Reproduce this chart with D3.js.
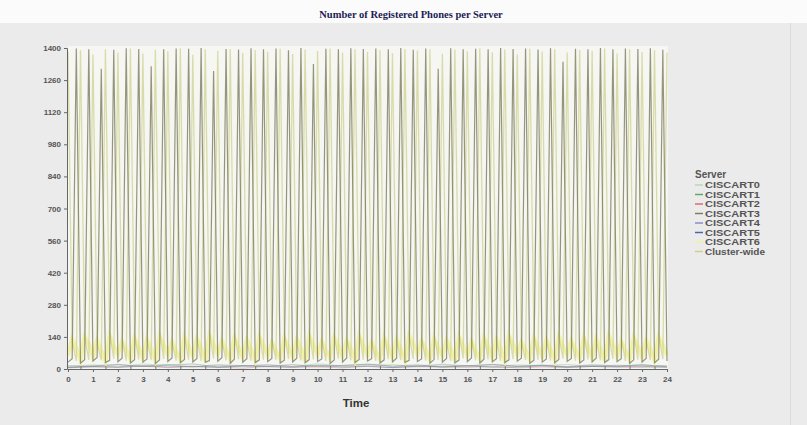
<!DOCTYPE html>
<html><head><meta charset="utf-8">
<script src="https://cdn.jsdelivr.net/npm/d3@7"></script>
<style>body{margin:0;background:#ececec;}svg{display:block;}</style>
</head><body>
<script>
// ---- data ----
const title = "Number of Registered Phones per Server";
const servers = ["CISCART0","CISCART1","CISCART2","CISCART3","CISCART4","CISCART5","CISCART6","Cluster-wide"];
const colors  = ["#b5dcb0","#62a860","#e06a6a","#7d7d62","#8a8ccc","#4a66aa","#f0f09a","#cdd28a"];
const yTicks = [0,140,280,420,560,700,840,980,1120,1260,1400];
const xTicks = d3.range(0,25);
// samples every 10 minutes (1/6 h), 145 samples
const sampleStep = 1/6;
const ciscart3 = [
 30,45,1398, 25,40,1395, 35,50,1310, 28,38,1392, 32,47,1399, 26,41,1396,
 30,44,1320, 24,39,1394, 33,48,1398, 27,42,1397, 31,46,1400, 29,37,1300,
 34,49,1396, 25,43,1393, 30,45,1399, 28,40,1395, 32,46,1398, 26,38,1390,
 31,47,1400, 27,41,1330, 33,44,1397, 24,39,1394, 30,48,1399, 28,42,1396,
 35,45,1398, 26,40,1395, 31,47,1400, 29,38,1392, 33,44,1398, 25,41,1310,
 30,46,1399, 27,39,1395, 32,48,1397, 26,43,1394, 31,45,1400, 28,40,1396,
 34,47,1398, 25,38,1393, 30,44,1399, 27,42,1340, 33,46,1397, 26,39,1395,
 31,48,1400, 28,41,1394, 32,45,1398, 24,40,1396, 30,47,1399, 27,43,1392,
 35];
const clusterWide = [
 1385,120,35, 1390,140,40, 1372,110,38, 1395,160,45, 1380,130,36, 1398,150,42,
 1376,125,39, 1392,170,44, 1386,115,37, 1399,145,41, 1370,135,35, 1394,155,46,
 1388,122,38, 1396,165,43, 1378,118,36, 1391,148,40, 1384,132,39, 1397,158,44,
 1374,112,37, 1393,162,42, 1387,128,35, 1398,142,45, 1379,136,38, 1395,168,41,
 1383,119,36, 1390,152,43, 1377,126,39, 1396,146,44, 1389,138,37, 1394,160,40,
 1375,114,35, 1392,156,46, 1386,131,38, 1399,149,42, 1381,123,36, 1393,166,43,
 1372,117,39, 1397,153,41, 1385,134,37, 1395,144,45, 1380,127,36, 1391,161,42,
 1388,121,38, 1398,147,44, 1376,133,35, 1394,157,41, 1383,124,39, 1390,150,43,
 1380];
const ciscart6 = [
 60,130,90,40,140,110,55,125,80,35,145,100,65,120,85,45,135,95,
 50,128,88,38,142,105,62,118,78,42,138,98,58,132,92,36,146,108,
 66,122,84,44,136,96,52,126,86,40,140,102,60,116,80,46,134,94,
 54,130,90,34,144,106,64,120,82,48,138,100,56,124,88,38,142,104,
 62,118,78,44,136,96,50,128,86,40,146,110,66,122,84,42,132,92,
 58,126,90,36,140,102,60,120,80,46,138,98,52,130,88,38,144,106,
 64,118,82,44,134,94,56,128,86,40,142,100,62,124,84,48,136,96,
 50,132,90,36,146,108,58,120,80,42,138,98,54,126,88,40,140,104,
 60];
// hourly samples for servers that stay near the baseline
const hourly = d3.range(0,25);
const ciscart0 = [12,18,10,22,15,9,20,14,17,11,23,13,16,19,10,21,14,12,18,15,20,11,17,13,16];
const ciscart1 = [8,14,20,11,17,22,9,15,12,19,10,16,21,13,18,8,14,20,11,17,9,15,12,19,10];
const ciscart2 = [5,9,7,12,6,10,8,4,11,7,9,5,13,6,10,8,7,12,5,9,6,11,8,7,10];
const ciscart4 = [15,10,18,12,20,9,16,13,19,11,17,14,21,10,15,18,12,20,13,16,11,19,14,17,12];
const ciscart5 = [6,11,8,14,9,12,7,13,10,8,15,9,11,6,12,10,14,7,9,13,8,11,10,12,7];

// ---- drawing ----
const W = 807, H = 425;
const svg = d3.select("body").append("svg").attr("width", W).attr("height", H);
svg.append("rect").attr("width", W).attr("height", H).attr("fill", "#ebebeb");
svg.append("rect").attr("width", W).attr("height", 23).attr("fill", "#fbfbfb");
svg.append("line").attr("x1", 790.5).attr("x2", 790.5).attr("y1", 23).attr("y2", H).attr("stroke", "#dcdcdc");

svg.append("text").attr("x", 411).attr("y", 18).attr("text-anchor", "middle")
  .attr("font-family", "Liberation Serif, serif").attr("font-weight", "bold")
  .attr("font-size", 10.5).attr("fill", "#1c1c55").text(title);

const x = d3.scaleLinear().domain([0, 24]).range([68, 667]);
const y = d3.scaleLinear().domain([0, 1400]).range([369, 48]);

svg.append("rect").attr("x", 68).attr("y", 46).attr("width", 600).attr("height", 323).attr("fill", "#f6f6f2");

const g = svg.append("g");
const line = d3.line().x(d => x(d[0])).y(d => y(d[1]));
function drawSeries(vals, times, color, width, op) {
  g.append("path").datum(vals.map((v, i) => [times[i], v]))
    .attr("d", line).attr("fill", "none").attr("stroke", color)
    .attr("stroke-width", width).attr("stroke-opacity", op);
}
const fine = d3.range(ciscart3.length).map(i => i * sampleStep);
drawSeries(ciscart0, hourly, colors[0], 1, 0.7);
drawSeries(ciscart1, hourly, colors[1], 1, 0.5);
drawSeries(ciscart2, hourly, colors[2], 1, 0.4);
drawSeries(ciscart4, hourly, colors[4], 1, 0.4);
drawSeries(ciscart5, hourly, colors[5], 1, 0.4);
drawSeries(ciscart6, fine, colors[6], 4, 0.85);
drawSeries(clusterWide, fine, colors[7], 1.3, 0.7);
drawSeries(ciscart3, fine, colors[3], 1.2, 0.8);

// axes
const yAxis = d3.axisLeft(y).tickValues(yTicks).tickSize(3).tickFormat(d3.format("d"));
const ya = svg.append("g").attr("transform", "translate(67,0)").call(yAxis);
const xAxis = d3.axisBottom(x).tickValues(xTicks).tickSize(3).tickFormat(d3.format("d"));
const xa = svg.append("g").attr("transform", "translate(0,369)").call(xAxis);
const minor = d3.axisBottom(x).tickValues(d3.range(0.5, 24, 1)).tickSize(-3).tickFormat("");
svg.append("g").attr("transform", "translate(0,369)").call(minor)
  .call(s => s.select(".domain").remove()).selectAll("line").attr("stroke", "#777");
[ya, xa].forEach(a => {
  a.selectAll("text").attr("font-family", "Liberation Sans, Arial, sans-serif")
    .attr("font-size", 8).attr("font-weight", "bold").attr("fill", "#555");
  a.select(".domain").attr("stroke", "#666");
  a.selectAll(".tick line").attr("stroke", "#666");
});
xa.selectAll("text").attr("dy", "0.9em");

svg.append("text").attr("x", 356).attr("y", 407).attr("text-anchor", "middle")
  .attr("font-family", "Liberation Sans, Arial, sans-serif").attr("font-weight", "bold")
  .attr("font-size", 11.5).attr("fill", "#333").text("Time");

// legend
const lg = svg.append("g").attr("font-family", "Liberation Sans, Arial, sans-serif")
  .attr("font-size", 9).attr("font-weight", "bold").attr("fill", "#555");
lg.append("text").attr("x", 695).attr("y", 178).attr("font-size", 10).text("Server");
servers.forEach((s, i) => {
  const yy = 185 + i * 9.5;
  lg.append("line").attr("x1", 695).attr("x2", 703).attr("y1", yy).attr("y2", yy)
    .attr("stroke", colors[i]).attr("stroke-width", 1.5);
  lg.append("text").attr("x", 705).attr("y", yy + 3.3)
    .attr("textLength", s.length > 8 ? 60 : 55).attr("lengthAdjust", "spacingAndGlyphs").text(s);
});
</script>
</body></html>
